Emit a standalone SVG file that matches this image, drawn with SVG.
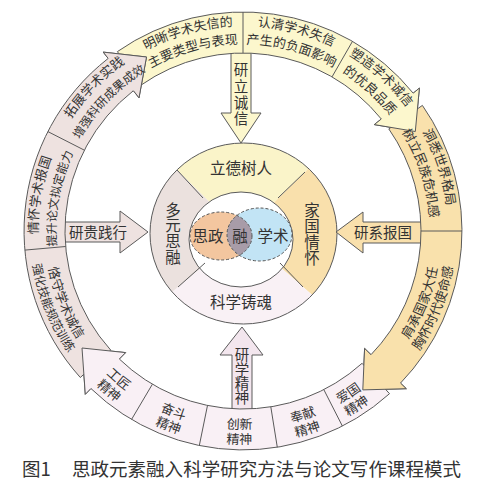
<svg xmlns="http://www.w3.org/2000/svg" width="492" height="489" viewBox="0 0 492 489">
<style>
text { font-family: "Noto Sans CJK SC", "Noto Sans", sans-serif; fill: #333; }
.ln { stroke: #5a5a5a; stroke-width: 1; stroke-linejoin: round; }
.dv { stroke: #5a5a5a; stroke-width: 1; fill: none; }
.hs { stroke: #5a5a5a; stroke-width: 1; fill: none; stroke-linejoin: round; }
.rt { font-size: 13px; }
.rs { font-size: 12px; }
.ct { font-size: 15.5px; }
.at { font-size: 14.5px; }
.y { fill: #fcf7cd; } .o { fill: #f9e1ac; } .l { fill: #f9f0f5; } .p { fill: #eee2e0; }
.vd { fill: none; stroke: #555; stroke-width: 1; stroke-dasharray: 3 2; }
</style>
<defs>
<path id="cw205" d="M243 26 A205 205 0 1 1 243 436 A205 205 0 1 1 243 26"/>
<path id="cw187" d="M243 44 A187 187 0 1 1 243 418 A187 187 0 1 1 243 44"/>
<path id="ccw198" d="M243 33 A198 198 0 1 0 243 429 A198 198 0 1 0 243 33"/>
<path id="ccw213" d="M243 18 A213 213 0 1 0 243 444 A213 213 0 1 0 243 18"/>
<clipPath id="cr"><ellipse cx="243.5" cy="233.5" rx="93.5" ry="90.5"/></clipPath>
<clipPath id="vo"><ellipse cx="221" cy="236" rx="31" ry="24"/></clipPath>
</defs>
<rect width="492" height="489" fill="#fff"/>

<g id="center-ring">
<g clip-path="url(#cr)">
<polygon points="242,234 47,42 431,48" fill="#faf4c9"/>
<polygon points="242,234 431,48 425,393" fill="#f9e0ac"/>
<polygon points="242,234 425,393 50,393" fill="#f9f1f5"/>
<polygon points="242,234 50,393 47,42" fill="#ebe1de"/>
</g>
<ellipse cx="243.5" cy="233.5" rx="93.5" ry="90.5" class="dv"/>
<ellipse cx="241" cy="239.5" rx="52" ry="47.5" fill="#fff" stroke="#5a5a5a" stroke-width="1"/>
<path class="dv" d="M177 170 L203 198 M305 172 L278 198 M178 287 L205 263 M303 287 L280 263"/>
<text class="ct" x="241" y="174" text-anchor="middle">立德树人</text>
<text class="ct" x="241" y="308" text-anchor="middle">科学铸魂</text>
<text class="ct" text-anchor="middle"><tspan x="173" y="216">多</tspan><tspan x="173" y="231">元</tspan><tspan x="173" y="247">思</tspan><tspan x="173" y="263">融</tspan></text>
<text class="ct" text-anchor="middle"><tspan x="312" y="216">家</tspan><tspan x="312" y="232">国</tspan><tspan x="312" y="248">情</tspan><tspan x="312" y="264">怀</tspan></text>
</g>

<g id="venn">
<ellipse cx="221" cy="236" rx="31" ry="24" fill="#f3c69f"/>
<ellipse cx="259.5" cy="234.5" rx="32.5" ry="26.5" fill="#c2e4f5"/>
<ellipse cx="259.5" cy="234.5" rx="32.5" ry="26.5" fill="#a89ca8" clip-path="url(#vo)"/>
<ellipse cx="221" cy="236" rx="31" ry="24" class="vd"/>
<ellipse cx="259.5" cy="234.5" rx="32.5" ry="26.5" class="vd"/>
<text class="ct" x="208" y="242" text-anchor="middle">思政</text>
<text class="ct" x="240" y="242" text-anchor="middle">融</text>
<text class="ct" x="273" y="242" text-anchor="middle">学术</text>
</g>

<g id="connectors">
<path class="ln" fill="#fcf7cd" d="M231 50 L251 50 L251 113 L261 113 L241 143 L221 113 L231 113 Z"/>
<path class="ln" fill="#f9e0ac" d="M424 222 L363 222 L363 212 L336 232 L363 253 L363 243 L424 243 Z"/>
<path class="ln" fill="#eee2e0" d="M62 222 L120 222 L120 211 L148 232 L120 253 L120 242 L62 242 Z"/>
<path class="ln" fill="#f3e6ee" d="M232 412 L232 355 L220 355 L242 327 L263 355 L252 355 L252 412 Z"/>
<text class="at" text-anchor="middle"><tspan x="241" y="75">研</tspan><tspan x="241" y="92">立</tspan><tspan x="241" y="108">诚</tspan><tspan x="241" y="124">信</tspan></text>
<text class="at" text-anchor="middle"><tspan x="242" y="360">研</tspan><tspan x="242" y="375">学</tspan><tspan x="242" y="389">精</tspan><tspan x="242" y="403">神</tspan></text>
<text class="at" x="383" y="238" text-anchor="middle">研系报国</text>
<text class="at" x="98" y="238" text-anchor="middle">研贵践行</text>
</g>

<g id="outer-ring">
<path id="arrow-yellow" class="ln y" d="M117.4 51.6 A219 219 0 0 1 413.2 93.2 L419.4 88.1 L415.3 131.5 L374.3 124.6 L381.3 119 A178 178 0 0 0 140.9 85.2 Z"/>
<path id="arrow-orange" class="ln o" d="M422.4 105.4 A219 219 0 0 1 400.5 383.1 L406.3 388.7 L362.8 389.9 L364.6 348.4 L371 354.7 A178 178 0 0 0 388.8 128.9 Z"/>
<path id="arrow-lavender" class="ln l" d="M389.5 393.7 A219 219 0 0 1 90.9 388.5 L85.3 394.3 L82 348 L125.6 352.6 L119.3 359 A178 178 0 0 0 362.1 363.3 Z"/>
<path id="arrow-pink" class="ln p" d="M80.3 377.5 A219 219 0 0 1 108.2 58.4 L103.2 52.1 L146.5 57 L139 97.8 L133.4 90.7 A178 178 0 0 0 110.7 350.1 Z"/>
<path class="dv" d="M243 12 L243 53 M352.5 41.3 L332 76.9 M462 231 L421 231 M342.4 426.1 L323.8 389.6 M277.3 447.3 L270.8 406.8 M199.3 445.6 L207.5 405.4 M131.5 419.5 L152.4 384.2 M24.8 250.1 L65.7 246.5 M47.9 131.6 L84.4 150.2"/>
<path class="y" d="M413.2 93.2 L419.4 88.1 L415.3 131.5 L374.3 124.6 L381.3 119 Z"/>
<path class="hs" d="M413.2 93.2 L419.4 88.1 L415.3 131.5 L374.3 124.6 L381.3 119"/>
<path class="o" d="M400.5 383.1 L406.3 388.7 L362.8 389.9 L364.6 348.4 L371 354.7 Z"/>
<path class="hs" d="M400.5 383.1 L406.3 388.7 L362.8 389.9 L364.6 348.4 L371 354.7"/>
<path class="l" d="M90.9 388.5 L85.3 394.3 L82 348 L125.6 352.6 L119.3 359 Z"/>
<path class="hs" d="M90.9 388.5 L85.3 394.3 L82 348 L125.6 352.6 L119.3 359"/>
<path class="p" d="M108.2 58.4 L103.2 52.1 L146.5 57 L139 97.8 L133.4 90.7 Z"/>
<path class="hs" d="M108.2 58.4 L103.2 52.1 L146.5 57 L139 97.8 L133.4 90.7"/>
</g>

<g id="ring-labels" text-anchor="middle">
<text class="rt"><textPath href="#cw205" startOffset="95.69%">明晰学术失信的</textPath></text>
<text class="rt"><textPath href="#cw187" startOffset="95.69%">主要类型与表现</textPath></text>
<text class="rt"><textPath href="#cw205" startOffset="4.17%">认清学术失信</textPath></text>
<text class="rt"><textPath href="#cw187" startOffset="4.17%">产生的负面影响</textPath></text>
<text class="rt"><textPath href="#cw205" startOffset="11.67%">塑造学术诚信</textPath></text>
<text class="rt"><textPath href="#cw187" startOffset="11.67%">的优良品质</textPath></text>
<text class="rt"><textPath href="#cw205" startOffset="20%">洞悉世界格局</textPath></text>
<text class="rt"><textPath href="#cw187" startOffset="20%">树立民族危机感</textPath></text>
<text class="rt"><textPath href="#ccw198" startOffset="68.89%">肩承国家大任</textPath></text>
<text class="rt"><textPath href="#ccw213" startOffset="68.89%">胸怀时代使命感</textPath></text>
<text class="rt"><textPath href="#ccw198" startOffset="59.17%">爱国</textPath></text>
<text class="rt"><textPath href="#ccw213" startOffset="59.17%">精神</textPath></text>
<text class="rt"><textPath href="#ccw198" startOffset="55%">奉献</textPath></text>
<text class="rt"><textPath href="#ccw213" startOffset="55%">精神</textPath></text>
<text class="rt"><textPath href="#ccw198" startOffset="49.72%">创新</textPath></text>
<text class="rt"><textPath href="#ccw213" startOffset="49.72%">精神</textPath></text>
<text class="rt"><textPath href="#ccw198" startOffset="44.17%">奋斗</textPath></text>
<text class="rt"><textPath href="#ccw213" startOffset="44.17%">精神</textPath></text>
<text class="rt"><textPath href="#ccw198" startOffset="38.89%">工匠</textPath></text>
<text class="rt"><textPath href="#ccw213" startOffset="38.89%">精神</textPath></text>
<text class="rt"><textPath href="#ccw198" startOffset="31.11%">恪守学术诚信</textPath></text>
<text class="rs"><textPath href="#ccw213" startOffset="31.11%">强化技能规范训练</textPath></text>
<text class="rt"><textPath href="#cw205" startOffset="77.78%">情怀学术报国</textPath></text>
<text class="rs"><textPath href="#cw187" startOffset="77.78%">提升论文拟定能力</textPath></text>
<text class="rt"><textPath href="#cw205" startOffset="87.22%">拓展学术实践</textPath></text>
<text class="rs"><textPath href="#cw187" startOffset="87.22%">增强科研成果成效</textPath></text>
</g>

<g id="caption">
<text x="22" y="476" font-size="18.5">图1</text>
<text x="72" y="476" font-size="18.5" textLength="389" lengthAdjust="spacing">思政元素融入科学研究方法与论文写作课程模式</text>
</g>
</svg>
